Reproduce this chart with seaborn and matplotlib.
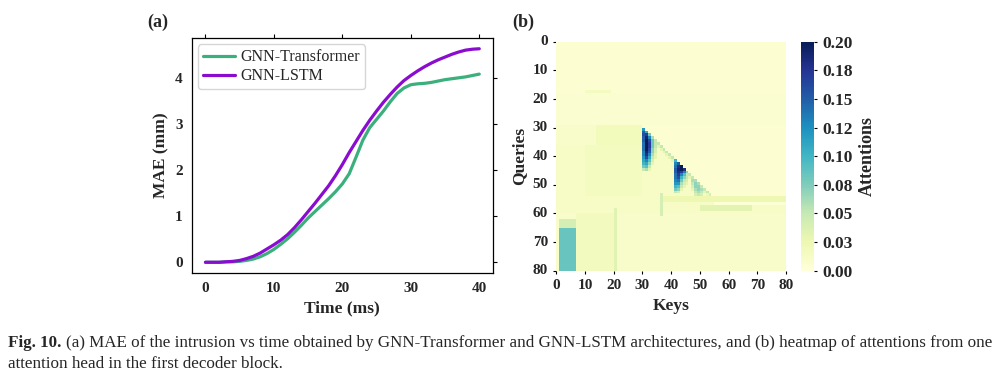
import matplotlib

matplotlib.use("Agg")
import matplotlib.pyplot as plt
import numpy as np
import pandas as pd
import seaborn as sns

# ---- panel (a): MAE vs time ----------------------------------------------
time_ms = list(range(41))
mae_transformer = [0.00, 0.00, 0.00, 0.01, 0.01, 0.02, 0.04, 0.07, 0.12, 0.19,
                   0.28, 0.39, 0.51, 0.65, 0.80, 0.96, 1.10, 1.24, 1.38, 1.53,
                   1.70, 1.92, 2.28, 2.65, 2.92, 3.10, 3.28, 3.48, 3.66, 3.78,
                   3.85, 3.87, 3.88, 3.90, 3.93, 3.96, 3.98, 4.00, 4.02, 4.05,
                   4.08]
mae_lstm = [0.00, 0.00, 0.00, 0.01, 0.02, 0.04, 0.08, 0.13, 0.20, 0.29,
            0.38, 0.48, 0.60, 0.75, 0.92, 1.10, 1.28, 1.47, 1.66, 1.88,
            2.12, 2.38, 2.62, 2.86, 3.08, 3.28, 3.47, 3.64, 3.80, 3.94,
            4.05, 4.15, 4.24, 4.32, 4.39, 4.45, 4.51, 4.56, 4.60, 4.62,
            4.63]
series_names = ["GNN-Transformer", "GNN-LSTM"]
series_colors = ["#3bb07d", "#8a0ccf"]

# ---- panel (b): attention map (80 queries x 80 keys) ----------------------
n_tokens = 80
background = 0.005
# horizontal bands (rows start, stop, value)
band_start = [18, 29, 36, 54, 60]
band_stop = [29, 36, 54, 60, 80]
band_value = [0.007, 0.010, 0.011, 0.011, 0.010]
# rows 29..53: keys to the right of the diagonal are empty
tri_rows = [29, 30, 31, 32, 33, 34, 35, 36, 37, 38, 39, 40, 41,
            42, 43, 44, 45, 46, 47, 48, 49, 50, 51, 52, 53]
tri_cut = [30, 31, 32, 33, 34, 35, 36, 37, 38, 39, 40, 41, 42,
           43, 44, 45, 46, 47, 48, 49, 50, 51, 52, 53, 54]
tri_right = 0.005
diag_val = [0.02, 0.03, 0.04, 0.05, 0.05, 0.05, 0.05, 0.05, 0.05, 0.05, 0.05,
            0.05, 0.05, 0.05, 0.05, 0.05, 0.05, 0.05, 0.05, 0.05, 0.05, 0.05,
            0.05, 0.05, 0.04]
diag_val2 = [0.012, 0.02, 0.025, 0.03, 0.03, 0.03, 0.03, 0.03, 0.03, 0.03,
             0.03, 0.03, 0.03, 0.03, 0.03, 0.03, 0.03, 0.03, 0.03, 0.03,
             0.03, 0.03, 0.03, 0.03, 0.025]
# rectangular patches (row0, row1, col0, col1, value)
rect_r0 = [17, 29, 36, 54, 56, 57, 53, 60, 58, 62, 65]
rect_r1 = [18, 36, 54, 56, 57, 59, 61, 80, 80, 65, 80]
rect_c0 = [10, 14, 10, 36, 55, 50, 36, 7, 20, 1, 1]
rect_c1 = [19, 30, 30, 80, 80, 68, 37, 20, 21, 7, 7]
rect_val = [0.016, 0.018, 0.015, 0.024, 0.004, 0.032, 0.042, 0.017, 0.034,
            0.042, 0.085]
nan = np.nan
blob1_origin = (30, 30)
blob1 = [[0.12, nan, nan, nan, nan],
         [0.15, 0.11, nan, nan, nan],
         [0.16, 0.17, 0.08, nan, nan],
         [0.15, 0.19, 0.13, 0.06, nan],
         [0.15, 0.20, 0.16, 0.08, 0.05],
         [0.14, 0.20, 0.17, 0.08, 0.05],
         [0.14, 0.20, 0.17, 0.08, 0.05],
         [0.14, 0.20, 0.16, 0.07, 0.04],
         [0.13, 0.19, 0.15, 0.07, 0.04],
         [0.13, 0.18, 0.13, 0.06, 0.03],
         [0.12, 0.16, 0.11, 0.05, 0.03],
         [0.11, 0.13, 0.09, 0.04, nan],
         [0.10, 0.11, 0.07, 0.03, nan],
         [0.08, 0.09, 0.05, nan, nan],
         [0.05, 0.06, 0.03, nan, nan]]
blob2_origin = (41, 41)
blob2 = [[0.10, nan, nan, nan, nan],
         [0.13, 0.15, nan, nan, nan],
         [0.14, 0.18, 0.20, nan, nan],
         [0.15, 0.19, 0.20, 0.18, nan],
         [0.15, 0.18, 0.17, 0.13, 0.07],
         [0.14, 0.17, 0.13, 0.09, 0.05],
         [0.14, 0.16, 0.10, 0.07, 0.05],
         [0.13, 0.14, 0.08, 0.05, 0.04],
         [0.12, 0.12, 0.06, 0.04, 0.03],
         [0.10, 0.09, 0.05, 0.03, nan],
         [0.08, 0.07, 0.03, nan, nan],
         [0.05, 0.04, nan, nan, nan]]
blob3_origin = (47, 47)
blob3 = [[0.05, nan, nan, nan],
         [0.06, 0.06, nan, nan],
         [0.05, 0.07, 0.06, nan],
         [0.04, 0.07, 0.07, 0.05],
         [0.03, 0.06, 0.07, 0.06],
         [nan, 0.05, 0.06, 0.05],
         [nan, 0.04, 0.05, 0.04]]
cbar_ticks = [0.0, 0.025, 0.05, 0.075, 0.10, 0.125, 0.15, 0.175, 0.20]
cbar_labels = ["0.00", "0.03", "0.05", "0.08", "0.10", "0.12", "0.15", "0.18",
               "0.20"]
grid_ticks = [0, 10, 20, 30, 40, 50, 60, 70, 80]

att = np.full((n_tokens, n_tokens), background)
for r0, r1, v in zip(band_start, band_stop, band_value):
    att[r0:r1, :] = v
for r, c in zip(tri_rows, tri_cut):
    att[r, c:] = tri_right
for r0, r1, c0, c1, v in zip(rect_r0, rect_r1, rect_c0, rect_c1, rect_val):
    att[r0:r1, c0:c1] = v
for r, c, v, v2 in zip(tri_rows, tri_cut, diag_val, diag_val2):
    att[r, c - 1] = v
    att[r, c - 2] = max(att[r, c - 2], v2)
for (r0, c0), blk in [(blob1_origin, blob1), (blob2_origin, blob2),
                      (blob3_origin, blob3)]:
    blk = np.array(blk)
    sub = att[r0:r0 + blk.shape[0], c0:c0 + blk.shape[1]]
    sub[~np.isnan(blk)] = blk[~np.isnan(blk)]

# ---- figure ----------------------------------------------------------------
sns.set_style("white")
plt.rcParams["font.family"] = ["Liberation Serif", "DejaVu Serif"]

fig = plt.figure(figsize=(10.04, 3.77), dpi=100)
ax1 = fig.add_axes([0.191, 0.276, 0.300, 0.623])
ax2 = fig.add_axes([0.554, 0.282, 0.229, 0.607])
cax = fig.add_axes([0.798, 0.282, 0.013, 0.607])

df = pd.DataFrame({
    "Time (ms)": time_ms * 2,
    "MAE (mm)": mae_transformer + mae_lstm,
    "model": [series_names[0]] * len(time_ms) + [series_names[1]] * len(time_ms),
})
sns.lineplot(data=df, x="Time (ms)", y="MAE (mm)", hue="model",
             palette=dict(zip(series_names, series_colors)), lw=2.3, ax=ax1)
ax1.set_xticks([0, 10, 20, 30, 40])
ax1.set_yticks([0, 1, 2, 3, 4])
ax1.set_xlabel("Time (ms)", fontsize=12.5, fontweight="bold")
ax1.set_ylabel("MAE (mm)", fontsize=12.5, fontweight="bold")
ax1.tick_params(direction="out", length=3, width=0.8, top=True, right=True,
                labelsize=11, color="black")
for lab in ax1.get_xticklabels() + ax1.get_yticklabels():
    lab.set_fontweight("bold")
for sp in ax1.spines.values():
    sp.set_color("black")
    sp.set_linewidth(0.9)
leg = ax1.legend(loc="upper left", fontsize=11.5, handlelength=2.0,
                 handletextpad=0.35, frameon=True, borderpad=0.3,
                 labelspacing=0.2, borderaxespad=0.4)
leg.get_frame().set_edgecolor("#cccccc")

sns.heatmap(att, cmap="YlGnBu", vmin=0, vmax=0.2, ax=ax2, cbar_ax=cax)
ax2.set_xticks(grid_ticks)
ax2.set_xticklabels([str(t) for t in grid_ticks], rotation=0)
ax2.set_yticks(grid_ticks)
ax2.set_yticklabels([str(t) for t in grid_ticks], rotation=0)
ax2.tick_params(length=2.5, width=0.8, labelsize=11, color="black",
                bottom=True, left=True)
for lab in ax2.get_xticklabels() + ax2.get_yticklabels():
    lab.set_fontweight("bold")
ax2.set_xlabel("Keys", fontsize=12.5, fontweight="bold")
ax2.set_ylabel("Queries", fontsize=12.5, fontweight="bold")

cax.set_yticks(cbar_ticks)
cax.set_yticklabels(cbar_labels)
cax.tick_params(length=2.5, width=0.8, labelsize=12.5, color="black", right=True)
for lab in cax.get_yticklabels():
    lab.set_fontweight("bold")
cax.set_ylabel("Attentions", fontsize=13, fontweight="bold")

fig.text(0.147, 0.94, "(a)", fontsize=13, fontweight="bold", va="center")
fig.text(0.510, 0.94, "(b)", fontsize=13, fontweight="bold", va="center")

# caption
fig.canvas.draw()
renderer = fig.canvas.get_renderer()
t_bold = fig.text(0.008, 0.080, "Fig. 10.", fontsize=12.25, fontweight="bold")
bb = t_bold.get_window_extent(renderer)
x_next = (bb.x1 + 5) / fig.bbox.width
fig.text(x_next, 0.080,
         "(a) MAE of the intrusion vs time obtained by GNN-Transformer and "
         "GNN-LSTM architectures, and (b) heatmap of attentions from one",
         fontsize=12.25)
fig.text(0.008, 0.025, "attention head in the first decoder block.",
         fontsize=12.25)

fig.savefig("out.png", dpi=100)
